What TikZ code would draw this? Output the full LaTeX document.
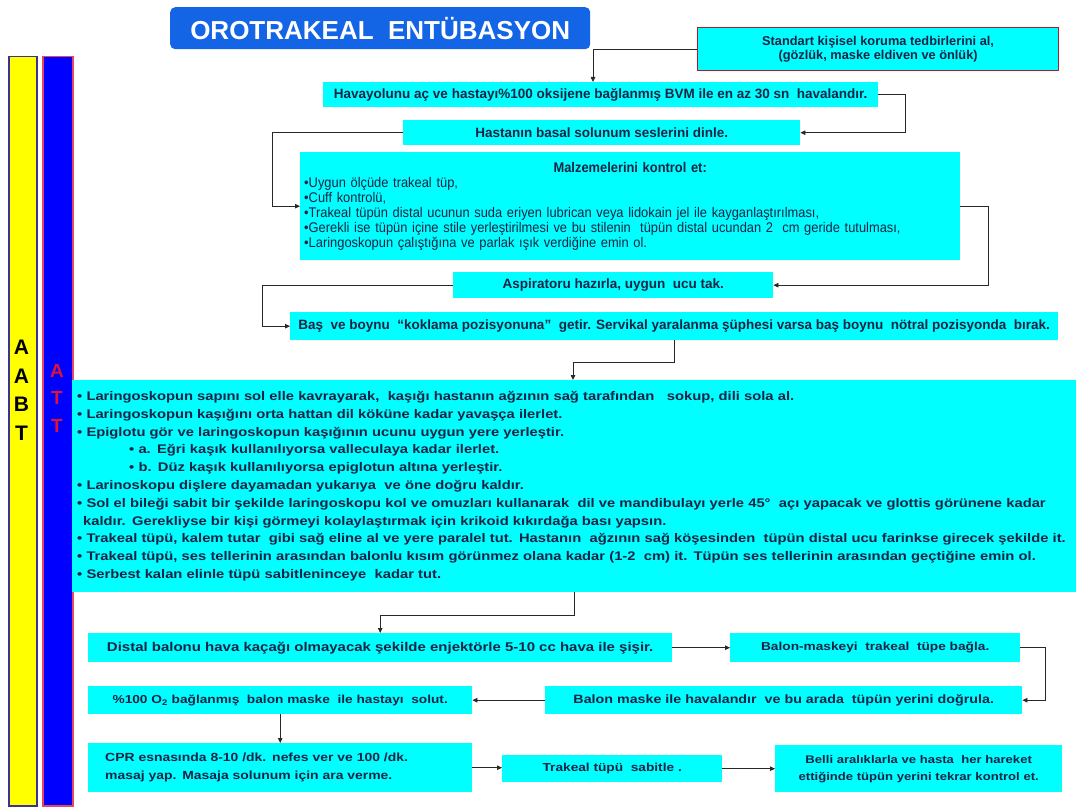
\documentclass[tikz,border=0pt]{standalone}
\usepackage{fontspec}
\setmainfont{Liberation Sans}
\newfontfamily\nf[FakeStretch=0.92]{Liberation Sans}
\newfontfamily\tf[FakeStretch=1.0]{Liberation Sans}
\newfontfamily\wf[FakeStretch=1.18]{Liberation Sans}
\usetikzlibrary{arrows.meta}
\definecolor{cy}{RGB}{0,255,255}
\definecolor{ink}{RGB}{25,35,70}
\definecolor{titleblue}{RGB}{20,100,230}
\definecolor{barblue}{RGB}{0,0,255}
\definecolor{baryellow}{RGB}{255,255,0}
\definecolor{lineg}{RGB}{40,40,40}
\definecolor{stdred}{RGB}{170,30,40}
\definecolor{ybord}{RGB}{60,50,150}
\definecolor{bbord}{RGB}{230,70,100}
\definecolor{lettred}{RGB}{220,20,60}
\begin{document}
\begin{tikzpicture}[x=1pt,y=-1pt,
  box/.style={fill=cy, inner sep=0pt, anchor=north west, text=ink, align=center,
    font=\wf\bfseries\fontsize{11.6}{14}\selectfont},
  topbox/.style={box, font=\tf\bfseries\fontsize{13.5}{15}\selectfont},
  conn/.style={draw=lineg, line width=0.8pt, -{Triangle[length=5pt,width=4.5pt]}},
  bar/.style={anchor=north west, inner sep=0pt, line width=1.5pt},
]
\useasboundingbox[fill=white] (0,0) rectangle (1076,810);

% side bars
\node[bar, fill=baryellow, draw=ybord, minimum width=28, minimum height=749] (ybar) at (8,56) {};
\node[bar, fill=barblue, draw=bbord, minimum width=30, minimum height=749] (bbar) at (42,56) {};
\node[font=\bfseries\fontsize{21}{28.5}\selectfont, align=center, inner sep=0pt, anchor=north, text=black]
  (abt) at (21.5,340) {A\\A\\B\\T};
\node[font=\bfseries\fontsize{19}{27.5}\selectfont, align=center, inner sep=0pt, anchor=north, text=lettred]
  (att) at (57,364) {A\\T\\T};

% title
\node[fill=titleblue, rounded corners=5pt, minimum width=420, minimum height=42, anchor=north west,
  text=white, font=\bfseries\fontsize{26}{30}\selectfont] (title) at (170,7) {OROTRAKEAL\ \ ENTÜBASYON};

% top chain
\node[topbox, minimum width=361, minimum height=43, draw=stdred, line width=1.2pt,
  font=\tf\bfseries\fontsize{12.8}{14}\selectfont] (std) at (697,27)
  {Standart kişisel koruma tedbirlerini al,\\(gözlük, maske eldiven ve önlük)};
\node[topbox, minimum width=555, minimum height=25] (hav) at (323,82)
  {Havayolunu aç ve hastayı\%100 oksijene bağlanmış BVM ile en az 30 sn\ \ havalandır.};
\node[topbox, minimum width=397, minimum height=25] (has) at (403,120)
  {Hastanın basal solunum seslerini dinle.};
\node[box, minimum width=660, minimum height=108, text width=652, inner xsep=4, align=left,
  font=\nf\fontsize{14}{15}\selectfont] (mal) at (300,152)
  {\makebox[\linewidth][c]{\bfseries Malzemelerini kontrol et:}\\
   •Uygun ölçüde trakeal tüp,\\
   •Cuff kontrolü,\\
   •Trakeal tüpün distal ucunun suda eriyen lubrican veya lidokain jel ile kayganlaştırılması,\\
   •Gerekli ise tüpün içine stile yerleştirilmesi ve bu stilenin\ \ tüpün distal ucundan 2\ \ cm geride tutulması,\\
   •Laringoskopun çalıştığına ve parlak ışık verdiğine emin ol.};
\node[topbox, minimum width=320, minimum height=26] (asp) at (453,272)
  {Aspiratoru hazırla, uygun\ \ ucu tak.};
\node[topbox, minimum width=768, minimum height=28] (bas) at (290,312)
  {Baş\ \ ve boynu\ \ “koklama pozisyonuna”\ \ getir. Servikal yaralanma şüphesi varsa baş boynu\ \ nötral pozisyonda\ \ bırak.};

% big box
\node[box, minimum width=1004, minimum height=212, text width=994, inner xsep=5, align=left,
  font=\wf\bfseries\fontsize{12.5}{17.8}\selectfont] (big) at (72,380)
  {• Laringoskopun sapını sol elle kavrayarak,\ \ kaşığı hastanın ağzının sağ tarafından\ \ \ sokup, dili sola al.\\
   • Laringoskopun kaşığını orta hattan dil köküne kadar yavaşça ilerlet.\\
   • Epiglotu gör ve laringoskopun kaşığının ucunu uygun yere yerleştir.\\
   \hspace*{52pt}• a. Eğri kaşık kullanılıyorsa valleculaya kadar ilerlet.\\
   \hspace*{52pt}• b. Düz kaşık kullanılıyorsa epiglotun altına yerleştir.\\
   • Larinoskopu dişlere dayamadan yukarıya\ \ ve öne doğru kaldır.\\
   • Sol el bileği sabit bir şekilde laringoskopu kol ve omuzları kullanarak\ \ dil ve mandibulayı yerle 45°\ \ açı yapacak ve glottis görünene kadar\\
   \hspace*{6pt}kaldır. Gerekliyse bir kişi görmeyi kolaylaştırmak için krikoid kıkırdağa bası yapsın.\\
   • Trakeal tüpü, kalem tutar\ \ gibi sağ eline al ve yere paralel tut. Hastanın\ \ ağzının sağ köşesinden\ \ tüpün distal ucu farinkse girecek şekilde it.\\
   • Trakeal tüpü, ses tellerinin arasından balonlu kısım görünmez olana kadar (1-2\ \ cm) it. Tüpün ses tellerinin arasından geçtiğine emin ol.\\
   • Serbest kalan elinle tüpü sabitleninceye\ \ kadar tut.};

% bottom chain
\node[box, minimum width=584, minimum height=29, font=\wf\bfseries\fontsize{12.7}{14}\selectfont] (dist) at (88,633)
  {Distal balonu hava kaçağı olmayacak şekilde enjektörle 5-10 cc hava ile şişir.};
\node[box, minimum width=290, minimum height=29] (bm) at (730,633)
  {Balon-maskeyi\ \ trakeal\ \ tüpe bağla.};
\node[box, minimum width=477, minimum height=28, font=\wf\bfseries\fontsize{12.1}{14}\selectfont] (bmh) at (545,686)
  {Balon maske ile havalandır\ \ ve bu arada\ \ tüpün yerini doğrula.};
\node[box, minimum width=384, minimum height=28] (oks) at (88,686)
  {\%100 O\textsubscript{2} bağlanmış\ \ balon maske\ \ ile hastayı\ \ solut.};
\node[box, minimum width=384, minimum height=49, text width=350, inner xsep=17, align=left,
  font=\wf\bfseries\fontsize{11.8}{18}\selectfont] (cpr) at (88,743)
  {CPR esnasında 8-10 /dk. nefes ver ve 100 /dk.\\masaj yap. Masaja solunum için ara verme.};
\node[box, minimum width=220, minimum height=27] (tts) at (502,755)
  {Trakeal tüpü\ \ sabitle .};
\node[box, minimum width=287, minimum height=47, font=\wf\bfseries\fontsize{11.1}{17}\selectfont] (bel) at (775,745)
  {Belli aralıklarla ve hasta\ \ her hareket\\ettiğinde tüpün yerini tekrar kontrol et.};

% helper coordinates
\coordinate (c1) at (593,0);
\coordinate (c2) at (905,0);
\coordinate (c3) at (272,0);
\coordinate (c4) at (988,0);
\coordinate (c5) at (262,0);
\coordinate (c6) at (573,362);
\coordinate (c7) at (0,615);
\coordinate (c8) at (1045,0);

% connectors
\draw[conn] (std.west) -| (c1 |- hav.north);
\draw[conn] (hav.east) -- (hav.east -| c2) |- (has.east);
\draw[conn] (has.west) -- (has.west -| c3) |- (mal.west);
\draw[conn] (mal.east) -- (mal.east -| c4) |- (asp.east);
\draw[conn] (asp.west) -- (asp.west -| c5) |- (bas.west);
\draw[conn] (bas.south) |- (c6) -- (c6 |- big.north);
\draw[conn] (big.south) |- (dist.north |- c7) -- (dist.north);
\draw[conn] (dist.east) -- (bm.west);
\draw[conn] (bm.east) -- (bm.east -| c8) |- (bmh.east);
\draw[conn] (bmh.west) -- (oks.east);
\draw[conn] (oks.south) -- (cpr.north);
\draw[conn] (cpr.east) -- (cpr.east -| tts.west);
\draw[conn] (tts.east) -- (tts.east -| bel.west);
\end{tikzpicture}
\end{document}
